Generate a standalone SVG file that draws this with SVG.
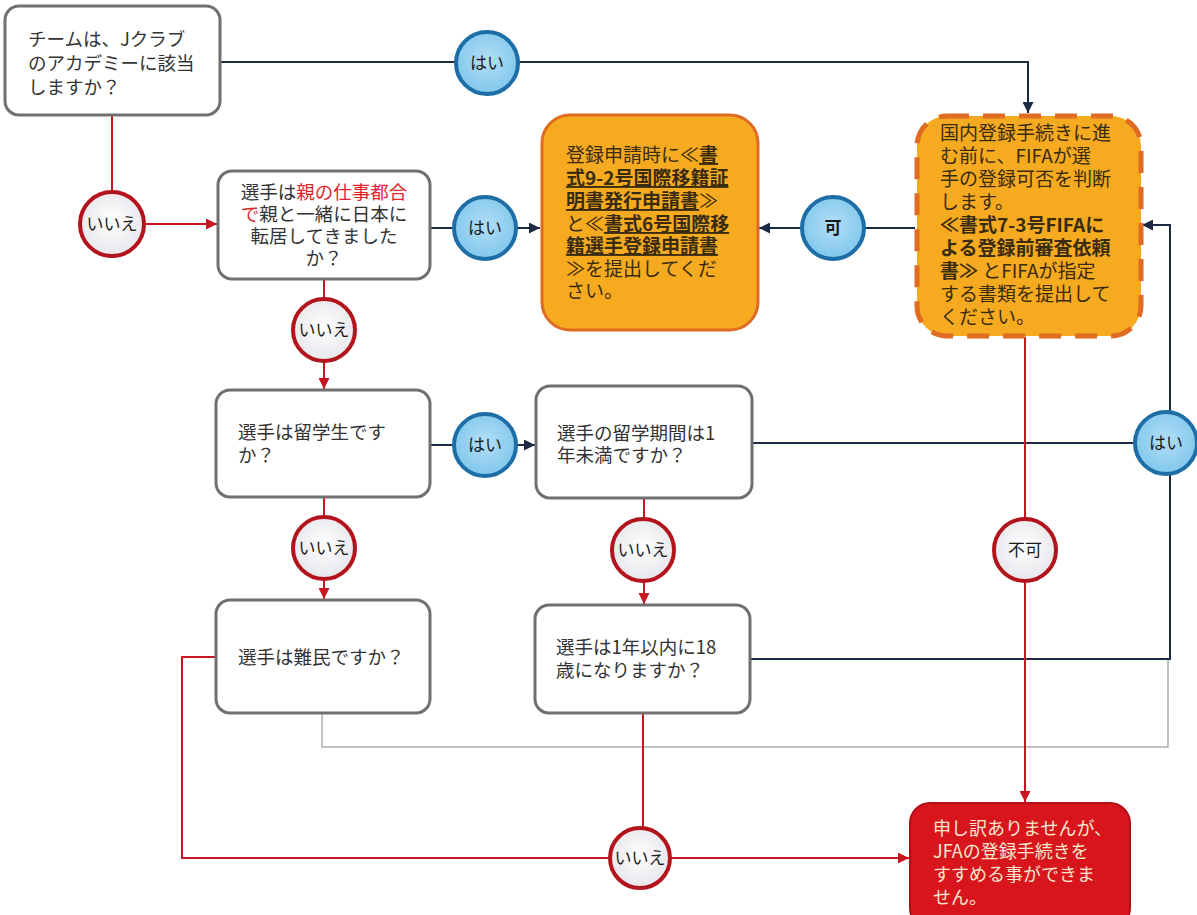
<svg xmlns="http://www.w3.org/2000/svg" width="1197" height="915" viewBox="0 0 1197 915">
<defs>
<style>
text{font-family:"Noto Sans CJK JP","Noto Sans",sans-serif;}
.box{fill:#fff;stroke:#707070;stroke-width:3;}
.t{font-size:18.5px;fill:#333;}
.ot{font-size:19px;fill:#3a2c10;}
.b{font-weight:bold;}
.u{font-weight:bold;text-decoration:underline;}
.rt{font-size:18px;fill:#f6e8cf;}
.yes{fill:url(#gb);stroke:#1d6da6;stroke-width:4;}
.no{fill:url(#gg);stroke:#b3141c;stroke-width:4;}
.ct{font-size:17px;fill:#1a1a1a;text-anchor:middle;}
.nav{fill:none;stroke:#1c2a44;stroke-width:2;}
.red{fill:none;stroke:#c8151e;stroke-width:2;}
.gray{fill:none;stroke:#b0b0b0;stroke-width:1.5;}
</style>
<radialGradient id="gb" cx="0.5" cy="0.45" r="0.6"><stop offset="0" stop-color="#b2def5"/><stop offset="1" stop-color="#7cc5ec"/></radialGradient>
<radialGradient id="gg" cx="0.5" cy="0.45" r="0.6"><stop offset="0" stop-color="#ffffff"/><stop offset="1" stop-color="#e4e4ea"/></radialGradient>
<marker id="an" viewBox="0 0 10 10" refX="10" refY="5" markerWidth="11" markerHeight="11" markerUnits="userSpaceOnUse" orient="auto"><path d="M0,0 L10,5 L0,10 z" fill="#1c2a44"/></marker>
<marker id="ar" viewBox="0 0 10 10" refX="10" refY="5" markerWidth="11" markerHeight="11" markerUnits="userSpaceOnUse" orient="auto"><path d="M0,0 L10,5 L0,10 z" fill="#c8151e"/></marker>
</defs>
<rect width="1197" height="915" fill="#fff"/>

<g id="connectors">
<path class="gray" d="M322,713 V747 H1168 V660"/>
<path class="nav" d="M220,62 H1028 V113" marker-end="url(#an)"/>
<path class="red" d="M112,115 V224 H217" marker-end="url(#ar)"/>
<path class="nav" d="M430,228 H540" marker-end="url(#an)"/>
<path class="nav" d="M915,228 H759" marker-end="url(#an)"/>
<path class="nav" d="M752,443 H1170"/>
<path class="nav" d="M750,659 H1170 V225 H1142" marker-end="url(#an)"/>
<path class="red" d="M324,280 V389" marker-end="url(#ar)"/>
<path class="nav" d="M430,445 H535" marker-end="url(#an)"/>
<path class="red" d="M324,497 V599" marker-end="url(#ar)"/>
<path class="red" d="M644,498 V604" marker-end="url(#ar)"/>
<path class="red" d="M216,657 H182 V858 H909" marker-end="url(#ar)"/>
<path class="red" d="M643,713 V858"/>
<path class="red" d="M1025,337 V802" marker-end="url(#ar)"/>
</g>

<g id="q1">
<rect class="box" x="5" y="6" width="215" height="109" rx="14"/>
<text class="t"><tspan x="28" y="46">チームは、Jクラブ</tspan><tspan x="28" y="70">のアカデミーに該当</tspan><tspan x="28" y="94">しますか？</tspan></text>
</g>

<g id="q2">
<rect class="box" x="218" y="171" width="212" height="108" rx="14"/>
<text class="t" text-anchor="middle"><tspan x="324" y="199">選手は<tspan fill="#e0252b">親の仕事都合</tspan></tspan><tspan x="324" y="221"><tspan fill="#e0252b">で</tspan>親と一緒に日本に</tspan><tspan x="324" y="243">転居してきました</tspan><tspan x="324" y="265">か？</tspan></text>
</g>

<g id="r1">
<rect x="542" y="115" width="216" height="215" rx="28" fill="#f5aa20" stroke="#e06b22" stroke-width="3"/>
<text class="ot"><tspan x="566" y="162">登録申請時に≪<tspan class="u">書</tspan></tspan><tspan x="566" y="185" class="u">式9-2号国際移籍証</tspan><tspan x="566" y="208"><tspan class="u">明書発行申請書</tspan>≫</tspan><tspan x="566" y="231">と≪<tspan class="u">書式6号国際移</tspan></tspan><tspan x="566" y="253" class="u">籍選手登録申請書</tspan><tspan x="566" y="276">≫を提出してくだ</tspan><tspan x="566" y="298">さい。</tspan></text>
</g>

<g id="r2">
<rect x="917" y="116" width="224" height="220" rx="30" fill="#f5aa20" stroke="#e06b22" stroke-width="5" stroke-dasharray="22 14"/>
<text class="ot"><tspan x="940" y="140">国内登録手続きに進</tspan><tspan x="940" y="163">む前に、FIFAが選</tspan><tspan x="940" y="186">手の登録可否を判断</tspan><tspan x="940" y="209">します。</tspan><tspan x="940" y="232" class="b">≪書式7-3号FIFAに</tspan><tspan x="940" y="255" class="b">よる登録前審査依頼</tspan><tspan x="940" y="278"><tspan class="b">書≫</tspan> とFIFAが指定</tspan><tspan x="940" y="301">する書類を提出して</tspan><tspan x="940" y="324">ください。</tspan></text>
</g>

<g id="q3">
<rect class="box" x="216" y="390" width="214" height="107" rx="14"/>
<text class="t"><tspan x="238" y="439">選手は留学生です</tspan><tspan x="238" y="462">か？</tspan></text>
</g>

<g id="q4">
<rect class="box" x="536" y="386" width="216" height="112" rx="14"/>
<text class="t"><tspan x="557" y="440">選手の留学期間は1</tspan><tspan x="557" y="462">年未満ですか？</tspan></text>
</g>

<g id="q5">
<rect class="box" x="216" y="600" width="214" height="113" rx="14"/>
<text class="t" x="238" y="664">選手は難民ですか？</text>
</g>

<g id="q6">
<rect class="box" x="535" y="605" width="215" height="108" rx="14"/>
<text class="t"><tspan x="556" y="654">選手は1年以内に18</tspan><tspan x="556" y="677">歳になりますか？</tspan></text>
</g>

<g id="end">
<rect x="910" y="803" width="220" height="125" rx="20" fill="#d8151d" stroke="#b30f17" stroke-width="2"/>
<text class="rt"><tspan x="933" y="835">申し訳ありませんが、</tspan><tspan x="933" y="858">JFAの登録手続きを</tspan><tspan x="933" y="881">すすめる事ができま</tspan><tspan x="933" y="904">せん。</tspan></text>
</g>

<g id="c-yes1"><circle class="yes" cx="487" cy="63" r="31"/><text class="ct" x="487" y="69">はい</text></g>
<g id="c-no1"><circle class="no" cx="112" cy="224" r="32"/><text class="ct" x="112" y="230">いいえ</text></g>
<g id="c-yes2"><circle class="yes" cx="485" cy="228" r="31"/><text class="ct" x="485" y="234">はい</text></g>
<g id="c-ok"><circle class="yes" cx="833" cy="228" r="31"/><text class="ct b" x="833" y="234">可</text></g>
<g id="c-no2"><circle class="no" cx="324" cy="330" r="31"/><text class="ct" x="324" y="336">いいえ</text></g>
<g id="c-yes3"><circle class="yes" cx="485" cy="445" r="31"/><text class="ct" x="485" y="451">はい</text></g>
<g id="c-yes4"><circle class="yes" cx="1166" cy="443" r="31"/><text class="ct" x="1166" y="449">はい</text></g>
<g id="c-no3"><circle class="no" cx="324" cy="548" r="31"/><text class="ct" x="324" y="554">いいえ</text></g>
<g id="c-no4"><circle class="no" cx="643" cy="550" r="31"/><text class="ct" x="643" y="556">いいえ</text></g>
<g id="c-ng"><circle class="no" cx="1025" cy="550" r="31"/><text class="ct" x="1025" y="556">不可</text></g>
<g id="c-no5"><circle class="no" cx="640" cy="858" r="30"/><text class="ct" x="640" y="864">いいえ</text></g>
</svg>
